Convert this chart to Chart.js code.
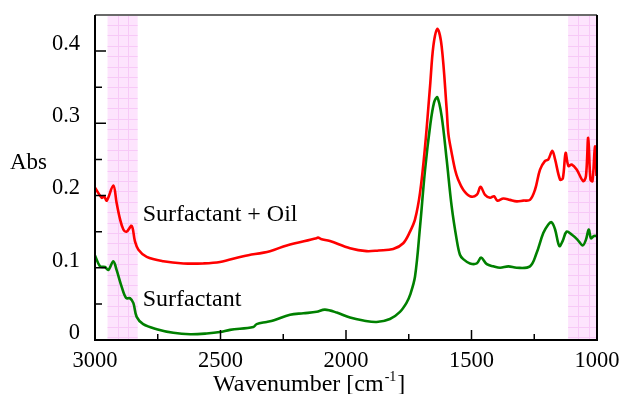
<!DOCTYPE html>
<html>
<head>
<meta charset="utf-8">
<script src="https://cdn.jsdelivr.net/npm/chart.js@4"></script>
<style>
    html, body { margin: 0; padding: 0; background: #fff; }
</style>
</head>
<body>
<canvas id="chart" width="621" height="394"></canvas>
<script>
// IR spectra, wavenumber axis runs 3000 -> 1000

// Surfactant + Oil (red)
const oilWn = [3000, 2973, 2964, 2953, 2927, 2914, 2900, 2887, 2874, 2854, 2841, 2827, 2794, 2728, 2648, 2569, 2502,
    2409, 2303, 2236, 2117, 2112, 2100, 2064, 1984, 1918, 1870, 1812, 1772, 1745, 1725, 1705, 1685, 1665, 1652, 1636,
    1619, 1599, 1592, 1579, 1565, 1553, 1533, 1506, 1479, 1464, 1446, 1426, 1410, 1397, 1373, 1347, 1320, 1294, 1267,
    1247, 1227, 1207, 1194, 1178, 1167, 1147, 1136, 1125, 1114, 1101, 1081, 1055, 1044, 1035, 1026, 1018, 1008, 1002];
const oilAbs = [0.211, 0.197, 0.199, 0.193, 0.214, 0.190, 0.167, 0.153, 0.150, 0.158, 0.137, 0.125, 0.115, 0.109, 0.106, 0.106, 0.108,
    0.116, 0.123, 0.131, 0.141, 0.142, 0.140, 0.137, 0.127, 0.123, 0.124, 0.126, 0.134, 0.150, 0.167, 0.204, 0.268, 0.352, 0.407, 0.431,
    0.407, 0.320, 0.285, 0.259, 0.235, 0.222, 0.208, 0.199, 0.201, 0.212, 0.201, 0.197, 0.199, 0.193, 0.196, 0.194, 0.192, 0.193, 0.194,
    0.208, 0.236, 0.248, 0.250, 0.262, 0.250, 0.222, 0.224, 0.259, 0.241, 0.243, 0.236, 0.220, 0.227, 0.280, 0.222, 0.220, 0.268, 0.227];

// Surfactant (green)
const surfWn = [3000, 2980, 2960, 2947, 2927, 2914, 2894, 2876, 2861, 2847, 2834, 2808, 2754, 2688, 2621, 2555, 2502,
    2462, 2369, 2356, 2316, 2290, 2223, 2170, 2117, 2084, 2037, 1984, 1931, 1878, 1825, 1785, 1758, 1745, 1725, 1705,
    1685, 1665, 1649, 1636, 1619, 1599, 1579, 1559, 1546, 1533, 1506, 1479, 1462, 1439, 1413, 1386, 1353, 1320, 1267,
    1241, 1214, 1194, 1181, 1167, 1150, 1137, 1121, 1101, 1078, 1057, 1044, 1033, 1024, 1012, 1000];
const surfAbs = [0.117, 0.102, 0.101, 0.097, 0.109, 0.097, 0.074, 0.058, 0.058, 0.051, 0.032, 0.022, 0.015, 0.010, 0.008, 0.009, 0.011,
    0.014, 0.018, 0.022, 0.025, 0.027, 0.035, 0.037, 0.039, 0.042, 0.038, 0.031, 0.027, 0.025, 0.029, 0.039, 0.052, 0.062, 0.088, 0.157,
    0.236, 0.296, 0.329, 0.336, 0.310, 0.250, 0.185, 0.139, 0.118, 0.112, 0.106, 0.106, 0.114, 0.105, 0.102, 0.100, 0.102, 0.100, 0.102,
    0.120, 0.148, 0.160, 0.163, 0.153, 0.130, 0.137, 0.150, 0.146, 0.139, 0.131, 0.139, 0.153, 0.141, 0.144, 0.144];

// highlighted bands (pink)
const bandFrom = [2950, 1115];
const bandTo = [2830, 1000];

const seriesNames = ['Surfactant + Oil', 'Surfactant'];

const serif = '"Liberation Serif", "Times New Roman", serif';

const toPoints = (xs, ys) => xs.map((v, i) => ({ x: v, y: ys[i] }));

// 背景带 + 边框 + 内向刻度 + 文字
const decor = {
    id: 'decor',
    beforeDatasetsDraw(chart) {
        const { ctx, chartArea: a, scales: { x } } = chart;
        ctx.save();
        bandFrom.forEach((f, i) => {
            const x1 = x.getPixelForValue(f);
            const x2 = x.getPixelForValue(bandTo[i]);
            ctx.fillStyle = '#fde4fd';
            ctx.fillRect(x1, a.top, x2 - x1, a.bottom - a.top);
            ctx.strokeStyle = '#f7c9f7';
            ctx.lineWidth = 1;
            ctx.beginPath();
            for (let gx = x1 + 10; gx < x2 - 2; gx += 10.4) {
                ctx.moveTo(Math.round(gx) + 0.5, a.top);
                ctx.lineTo(Math.round(gx) + 0.5, a.bottom);
            }
            for (let gy = a.top + 10; gy < a.bottom; gy += 10.4) {
                ctx.moveTo(x1, Math.round(gy) + 0.5);
                ctx.lineTo(x2, Math.round(gy) + 0.5);
            }
            ctx.stroke();
        });
        ctx.restore();
    },
    afterDatasetsDraw(chart) {
        const { ctx, chartArea: a, scales: { x, y } } = chart;
        ctx.save();

        // 刻度
        ctx.strokeStyle = '#000';
        ctx.lineWidth = 1.5;
        ctx.beginPath();
        for (let v = 1000; v <= 3000; v += 250) {
            const px = x.getPixelForValue(v);
            const len = v % 500 === 0 ? 10 : 6;
            ctx.moveTo(px, a.bottom);
            ctx.lineTo(px, a.bottom - len);
        }
        for (let k = 0; k <= 8; k++) {
            const py = y.getPixelForValue(k * 0.05);
            const len = k % 2 === 0 ? 11 : 7;
            ctx.moveTo(a.left, py);
            ctx.lineTo(a.left + len, py);
        }
        ctx.stroke();

        // 边框
        ctx.lineWidth = 2;
        ctx.strokeStyle = '#6a6a6a';
        ctx.beginPath();
        ctx.moveTo(a.left, a.top);
        ctx.lineTo(a.right, a.top);
        ctx.stroke();
        ctx.strokeStyle = '#000';
        ctx.beginPath();
        ctx.moveTo(a.right, a.top);
        ctx.lineTo(a.right, a.bottom);
        ctx.lineTo(a.left, a.bottom);
        ctx.lineTo(a.left, a.top);
        ctx.stroke();

        // 文字
        ctx.fillStyle = '#000';
        ctx.font = '23px ' + serif;
        ctx.textAlign = 'left';
        ctx.textBaseline = 'alphabetic';
        ctx.fillText('Abs', a.left - 85, a.top + 154);
        ctx.font = '24px ' + serif;
        ctx.fillText(seriesNames[0], x.getPixelForValue(2810), y.getPixelForValue(0.165));
        ctx.fillText(seriesNames[1], x.getPixelForValue(2810), y.getPixelForValue(0.047));

        // x 轴标题，cm-1 上标
        const main = 'Wavenumber [cm';
        const tx = a.left + 118;
        const ty = a.bottom + 51;
        ctx.fillText(main, tx, ty);
        const w = ctx.measureText(main).width;
        ctx.font = '14px ' + serif;
        ctx.fillText('-1', tx + w + 1, ty - 10);
        const w2 = ctx.measureText('-1').width;
        ctx.font = '24px ' + serif;
        ctx.fillText(']', tx + w + w2 + 2, ty);

        ctx.restore();
    }
};

const ctx = document.getElementById('chart').getContext('2d');
const chart = new Chart(ctx, {
    type: 'line',
    data: {
        datasets: [{
            label: seriesNames[0],
            data: toPoints(oilWn, oilAbs),
            borderColor: '#ff0000',
            borderWidth: 2.6,
            pointRadius: 0,
            tension: 0.35,
            fill: false
        }, {
            label: seriesNames[1],
            data: toPoints(surfWn, surfAbs),
            borderColor: '#008000',
            borderWidth: 2.6,
            pointRadius: 0,
            tension: 0.35,
            fill: false
        }]
    },
    options: {
        responsive: false,
        animation: false,
        devicePixelRatio: 1,
        layout: { padding: { left: 0, right: 24, top: 15, bottom: 0 } },
        plugins: {
            legend: { display: false },
            tooltip: { enabled: false }
        },
        scales: {
            x: {
                type: 'linear',
                reverse: true,
                min: 1000,
                max: 3000,
                grid: { display: false, drawTicks: false },
                border: { display: false },
                ticks: {
                    stepSize: 500,
                    autoSkip: false,
                    maxRotation: 0,
                    padding: 8,
                    color: '#000',
                    font: { family: serif, size: 22.5 },
                    callback: v => String(v)
                },
                afterFit: s => {
                    s.height = 54;
                    s.paddingLeft = 0;
                    s.paddingRight = 0;
                }
            },
            y: {
                min: 0,
                max: 0.45,
                grid: { display: false, drawTicks: false },
                border: { display: false },
                ticks: {
                    stepSize: 0.05,
                    autoSkip: false,
                    padding: 15,
                    labelOffset: -7,
                    color: '#000',
                    font: { family: serif, size: 22.5 },
                    callback: v => {
                        const r = Math.round(v * 100);
                        if (r % 10 !== 0 || r > 40) return '';
                        return r === 0 ? '0' : (r / 100).toFixed(1);
                    }
                },
                afterFit: s => {
                    s.width = 95;
                    s.paddingTop = 0;
                    s.paddingBottom = 0;
                }
            }
        }
    },
    plugins: [decor]
});
</script>
</body>
</html>
